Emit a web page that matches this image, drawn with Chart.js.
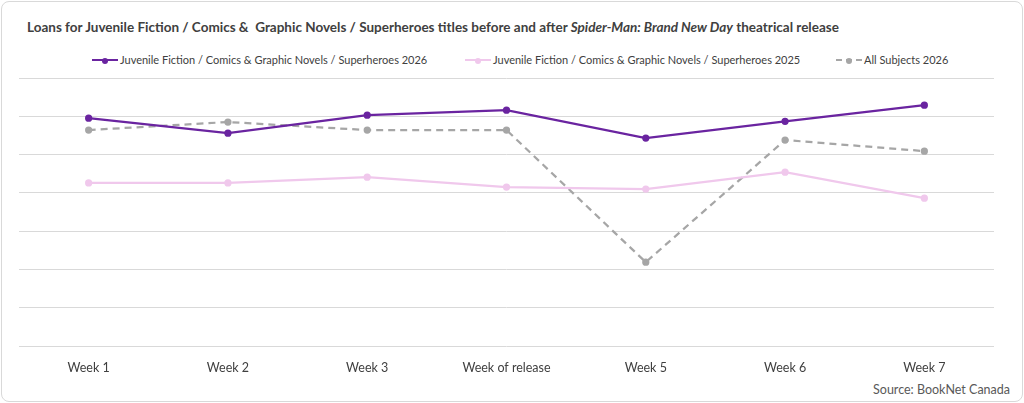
<!DOCTYPE html>
<html lang="en">
<head>
<meta charset="UTF-8">
<title>Loans chart</title>
<script src="https://cdn.jsdelivr.net/npm/chart.js"></script>
<style>
  body { margin: 0; background: #fff; font-family: Lato, sans-serif; }
  .card { position: absolute; left: 1px; top: 1px; width: 1020px; height: 399px; border: 1px solid #d9d9d9; border-radius: 8px; }
  .title { position: absolute; left: 27px; top: 19px; font-size: 13.5px; font-weight: bold; color: #404040; }
  .legend { position: absolute; top: 53px; left: 0; width: 1024px; font-size: 11px; color: #404040; }
  .legend span { position: absolute; white-space: nowrap; }
  .legend i { display: inline-block; width: 26px; height: 0; vertical-align: middle; margin-right: 2px; position: relative; top: -1px; }
  .legend i::after { content: ""; position: absolute; left: 10px; top: -3px; width: 6px; height: 6px; border-radius: 50%; background: currentColor; }
  .source { position: absolute; right: 14px; bottom: 6px; font-size: 12.5px; color: #595959; }
  canvas { position: absolute; left: 0; top: 0; }
</style>
</head>
<body>
<div class="card"></div>
<div class="title">Loans for Juvenile Fiction / Comics &amp;&nbsp; Graphic Novels / Superheroes titles before and after <i>Spider-Man: Brand New Day</i> theatrical release</div>
<div class="legend">
  <span style="left:92px"><i style="border-top:2px solid #6a24a0;color:#6a24a0"></i>Juvenile Fiction / Comics &amp; Graphic Novels / Superheroes 2026</span>
  <span style="left:465px"><i style="border-top:2px solid #f0c8ec;color:#f0c8ec"></i>Juvenile Fiction / Comics &amp; Graphic Novels / Superheroes 2025</span>
  <span style="left:836px"><i style="border-top:2px dashed #a6a6a6;color:#a6a6a6"></i>All Subjects 2026</span>
</div>
<div class="source">Source: BookNet Canada</div>
<canvas id="chart" width="1024" height="403"></canvas>
<script>
const weeks = ['Week 1', 'Week 2', 'Week 3', 'Week of release', 'Week 5', 'Week 6', 'Week 7'];
const superheroes2026 = [5.95, 5.56, 6.03, 6.16, 5.43, 5.87, 6.29];
const superheroes2025 = [4.26, 4.26, 4.41, 4.15, 4.10, 4.54, 3.86];
const allSubjects2026 = [5.64, 5.85, 5.64, 5.64, 2.19, 5.38, 5.09];

const ctx = document.getElementById('chart').getContext('2d');
new Chart(ctx, {
  type: 'line',
  data: {
    labels: weeks,
    datasets: [
      { label: 'Juvenile Fiction / Comics & Graphic Novels / Superheroes 2026', data: superheroes2026,
        borderColor: '#6a24a0', backgroundColor: '#6a24a0', borderWidth: 2.25, pointRadius: 2.5 },
      { label: 'Juvenile Fiction / Comics & Graphic Novels / Superheroes 2025', data: superheroes2025,
        borderColor: '#f0c8ec', backgroundColor: '#f0c8ec', borderWidth: 2.25, pointRadius: 2.5 },
      { label: 'All Subjects 2026', data: allSubjects2026,
        borderColor: '#a6a6a6', backgroundColor: '#a6a6a6', borderWidth: 2.25, borderDash: [7, 5], pointRadius: 2.5 }
    ]
  },
  options: {
    responsive: false,
    animation: false,
    layout: { padding: { top: 78, bottom: 22, left: 19, right: 30 } },
    plugins: { legend: { display: false }, tooltip: { enabled: false } },
    scales: {
      x: {
        offset: true,
        grid: { display: false },
        border: { display: false },
        ticks: { color: '#404040', font: { family: 'Lato', size: 12.5 }, padding: 6 }
      },
      y: {
        min: 0, max: 7,
        ticks: { display: false, stepSize: 1 },
        border: { display: false },
        grid: { color: '#d9d9d9', drawTicks: false },
        afterFit: s => { s.width = 0; }
      }
    }
  }
});
</script>
</body>
</html>
